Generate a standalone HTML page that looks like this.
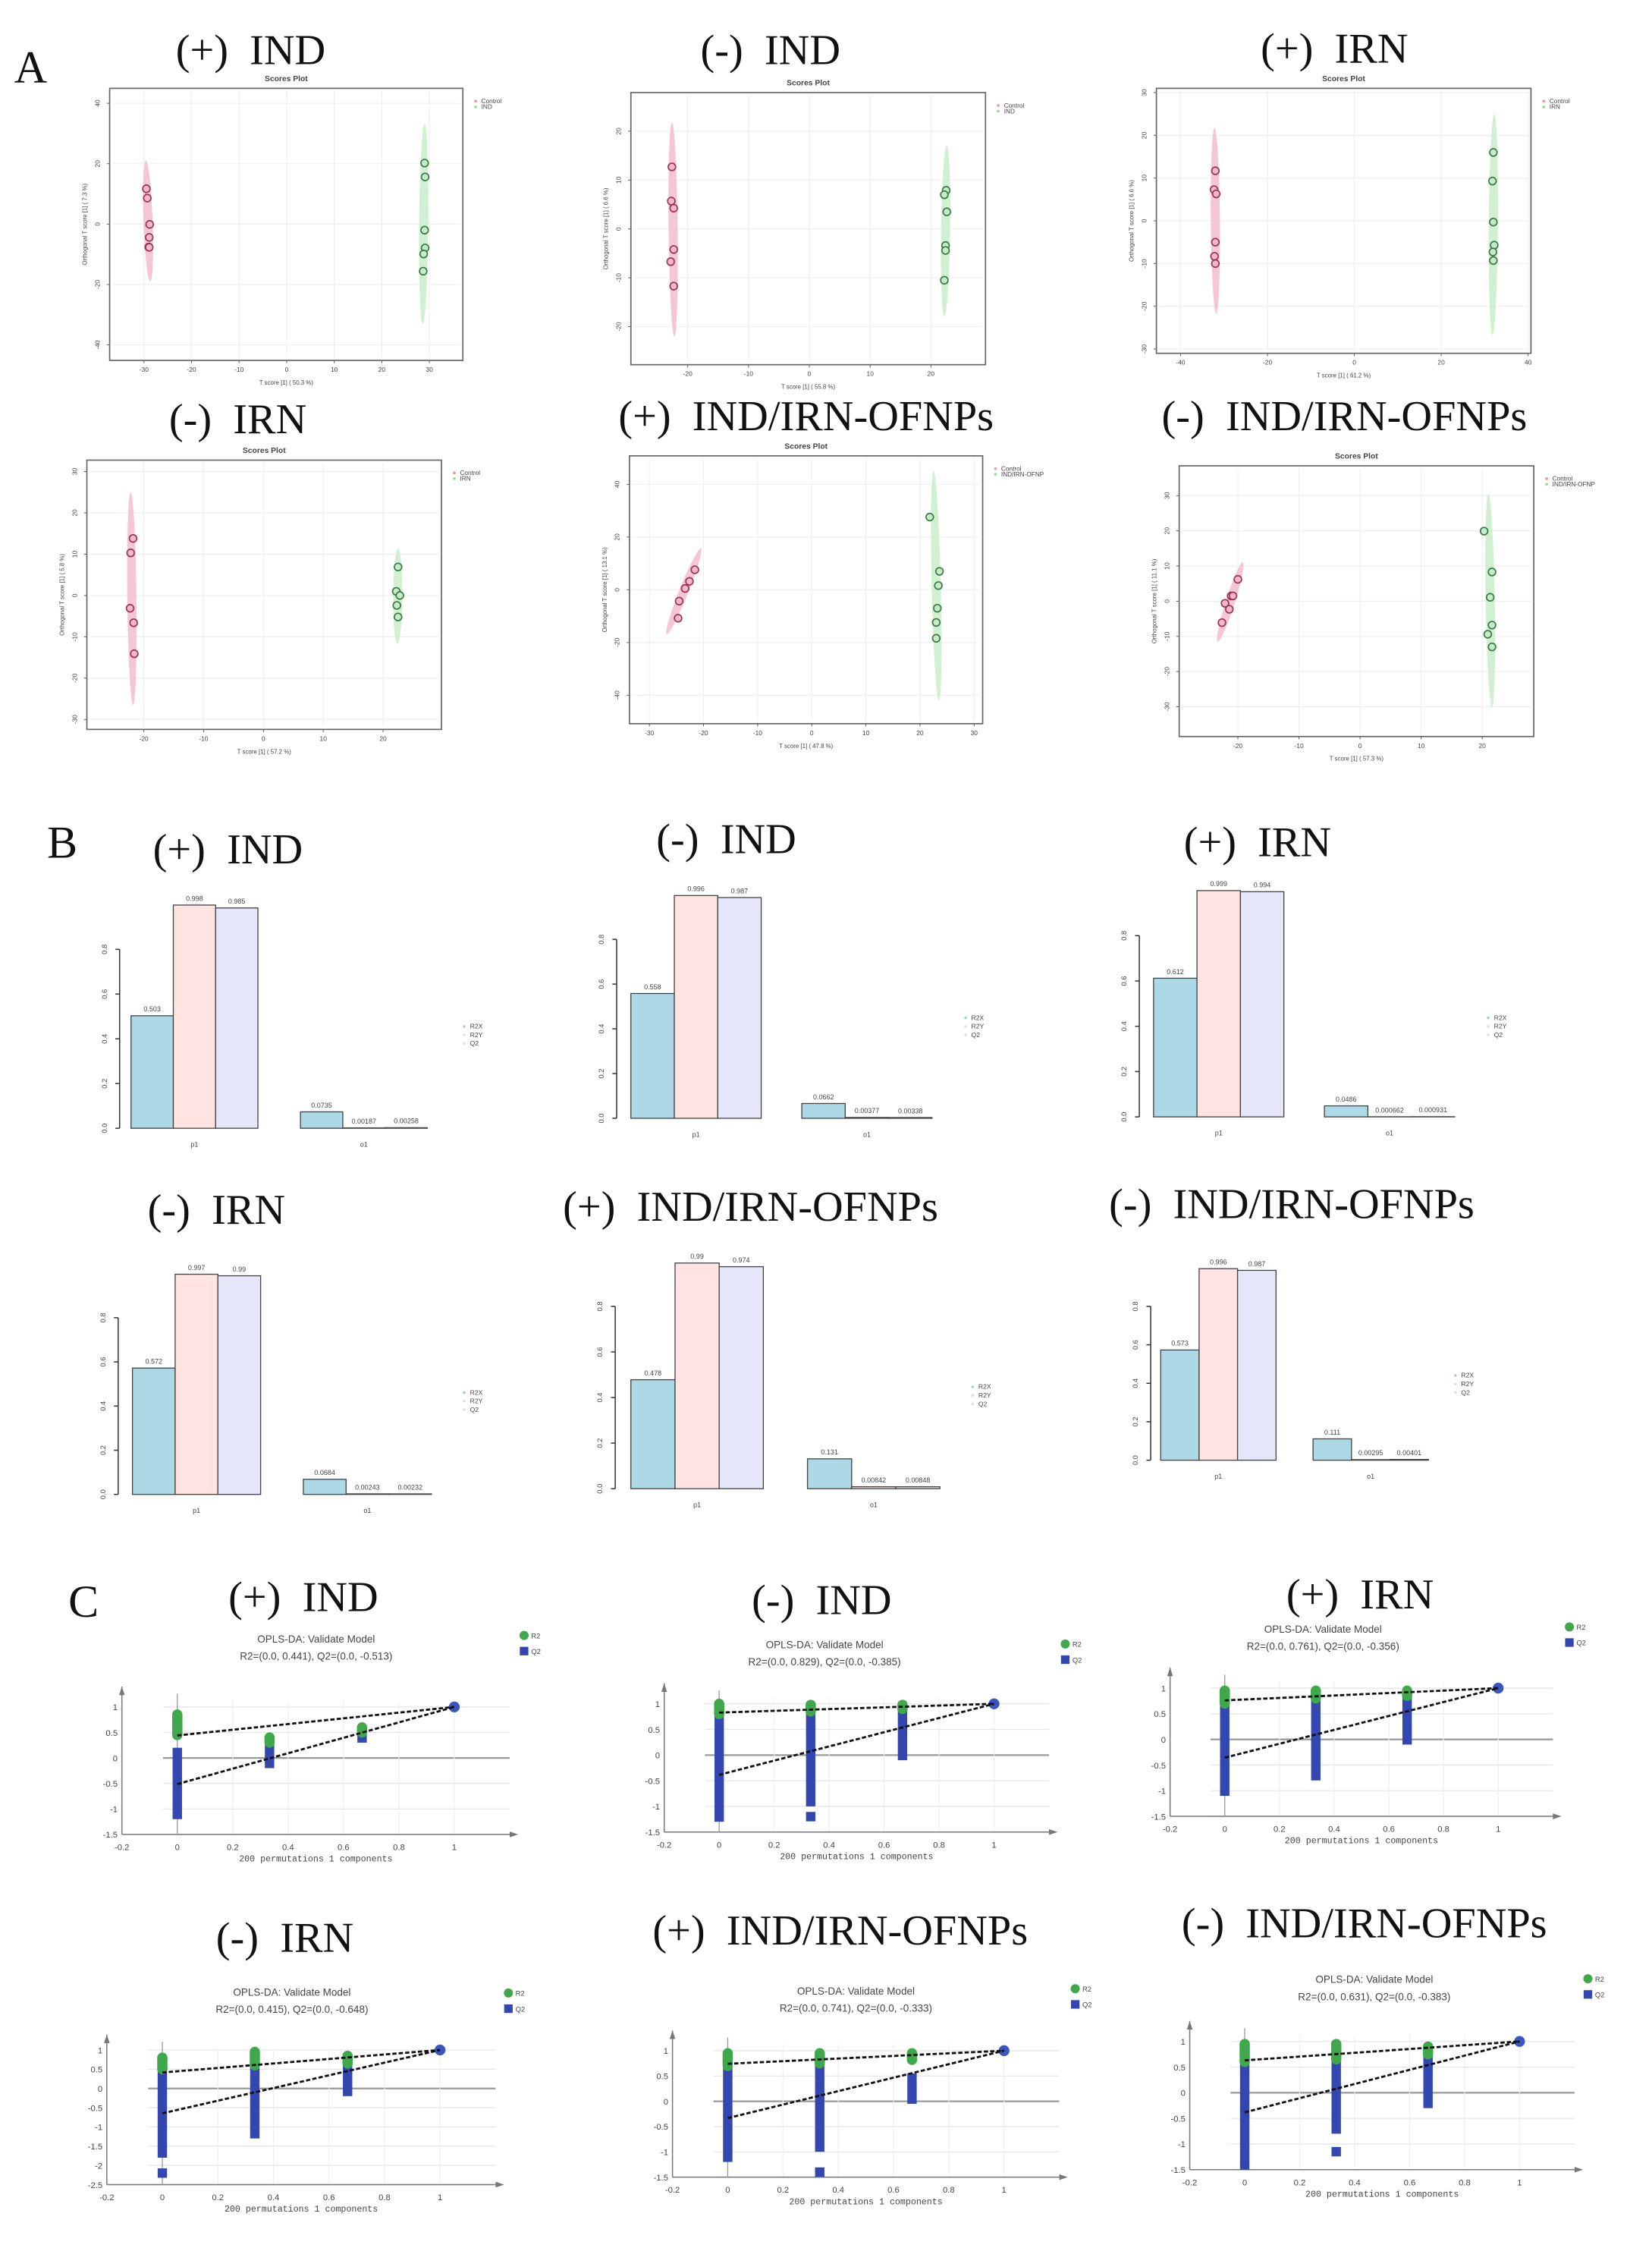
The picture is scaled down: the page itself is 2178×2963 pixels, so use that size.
<!DOCTYPE html>
<html><head><meta charset="utf-8"><style>
html,body{margin:0;padding:0;background:#fff;}
svg{display:block;}
.t{font-family:"Liberation Serif",serif;font-size:30px;fill:#111;white-space:pre;}
.L{font-family:"Liberation Serif",serif;font-size:32px;fill:#111;}
.s{font-family:"Liberation Sans",sans-serif;fill:#444;}
</style></head><body>
<svg id="fig" xmlns="http://www.w3.org/2000/svg" width="2178" height="2963" viewBox="0 0 1160 1578" preserveAspectRatio="none">
<rect x="0" y="0" width="1160" height="1578" fill="#fff"/>
</svg>
<script>
// ---------- Panel A data (scores plots) ----------
const a1Control=[[-29.5,11.7],[-29.3,8.6],[-28.8,-0.1],[-28.9,-4.4],[-29.0,-7.6],[-28.9,-7.7]];
const a1Treat=[[29.0,20.2],[29.1,15.6],[29.0,-2.0],[29.1,-7.9],[28.8,-9.9],[28.7,-15.6]];
const a2Control=[[-22.6,12.7],[-22.7,5.7],[-22.3,4.25],[-22.3,-4.2],[-22.8,-6.7],[-22.3,-11.7]];
const a2Treat=[[22.5,7.9],[22.2,7.0],[22.6,3.5],[22.4,-3.4],[22.4,-4.4],[22.2,-10.5]];
const a3Control=[[-32,11.7],[-32.3,7.3],[-31.8,6.3],[-32,-5],[-32.2,-8.3],[-32,-10]];
const a3Treat=[[32,16],[31.8,9.3],[32,-0.3],[32.2,-5.7],[31.9,-7.3],[32,-9.3]];
const a4Control=[[-21.8,13.8],[-22.2,10.3],[-22.3,-3.1],[-21.7,-6.6],[-21.6,-14.1]];
const a4Treat=[[22.5,6.9],[22.2,1],[22.8,0],[22.3,-2.4],[22.5,-5.2]];
const a5Control=[[-21.6,7.6],[-22.6,3.2],[-23.4,0.5],[-24.5,-4.3],[-24.7,-10.8]];
const a5Treat=[[21.8,27.6],[23.6,7],[23.4,1.6],[23.2,-7],[23.0,-12.4],[23.0,-18.4]];
const a6Control=[[-20,6.2],[-21.1,1.5],[-20.8,1.5],[-22.1,-0.6],[-21.4,-2.3],[-22.6,-6.1]];
const a6Treat=[[20.3,19.9],[21.6,8.3],[21.3,1.1],[21.6,-6.8],[20.9,-9.4],[21.6,-13]];
// ellipse ends [x1,y1,x2,y2] in data units
const a1Ell=[[-29.6,21,-28.7,-19],[29.0,33,28.6,-33]];
const a2Ell=[[-22.6,21.8,-22.2,-22],[22.6,17.1,22.2,-17.9]];
const a3Ell=[[-32.2,21.7,-31.8,-21.7],[32.2,25,31.8,-26.7]];
const a4Ell=[[-22.2,25,-21.8,-26.5],[22.5,11.4,22.4,-11.7]];
const a5Ell=[[-20.5,15.7,-26.8,-16.8],[22.5,45,23.5,-42]];
const a6Ell=[[-19.2,11,-23.3,-11.5],[21.0,30.4,21.6,-30.2]];

// ---------- Panel B data (bar plots) ----------
const bGroups=["p1","o1"];
const bSeries=["R2X","R2Y","Q2"];
const b1P1=[0.503,0.998,0.985], b1O1=[0.0735,0.00187,0.00258];
const b2P1=[0.558,0.996,0.987], b2O1=[0.0662,0.00377,0.00338];
const b3P1=[0.612,0.999,0.994], b3O1=[0.0486,0.000662,0.000931];
const b4P1=[0.572,0.997,0.99], b4O1=[0.0684,0.00243,0.00232];
const b5P1=[0.478,0.99,0.974], b5O1=[0.131,0.00842,0.00848];
const b6P1=[0.573,0.996,0.987], b6O1=[0.111,0.00295,0.00401];
const bLabelsP1=[["0.503","0.998","0.985"],["0.558","0.996","0.987"],["0.612","0.999","0.994"],["0.572","0.997","0.99"],["0.478","0.99","0.974"],["0.573","0.996","0.987"]];
const bLabelsO1=[["0.0735","0.00187","0.00258"],["0.0662","0.00377","0.00338"],["0.0486","0.000662","0.000931"],["0.0684","0.00243","0.00232"],["0.131","0.00842","0.00848"],["0.111","0.00295","0.00401"]];
const bTicks=[0,0.2,0.4,0.6,0.8];

// ---------- Panel C data (permutation tests) ----------
const permX=[0,0.333,0.667];
const c1R2=[[0.45,0.85],[0.3,0.4],[0.5,0.6]], c1Q2=[[-1.2,0.2],[-0.2,0.3],[0.3,0.55]], c1Int=[0.441,-0.513], c1Out=[];
const c2R2=[[0.8,1.0],[0.85,0.98],[0.9,0.98]], c2Q2=[[-1.3,0.9],[-1.0,0.85],[-0.1,0.9]], c2Int=[0.829,-0.385], c2Out=[[0.333,-1.2]];
const c3R2=[[0.7,0.95],[0.8,0.95],[0.85,0.95]], c3Q2=[[-1.1,0.85],[-0.8,0.85],[-0.1,0.85]], c3Int=[0.761,-0.356], c3Out=[];
const c4R2=[[0.5,0.8],[0.6,0.95],[0.65,0.85]], c4Q2=[[-1.8,0.6],[-1.3,0.85],[-0.2,0.8]], c4Int=[0.415,-0.648], c4Out=[[0,-2.2]];
const c5R2=[[0.7,0.95],[0.75,0.95],[0.82,0.95]], c5Q2=[[-1.2,0.8],[-1.0,0.8],[-0.05,0.55]], c5Int=[0.741,-0.333], c5Out=[[0.333,-1.4]];
const c6R2=[[0.6,0.95],[0.65,0.95],[0.75,0.9]], c6Q2=[[-1.5,0.75],[-0.8,0.85],[-0.3,0.85]], c6Int=[0.631,-0.383], c6Out=[[0.333,-1.15]];
const cYTicksA=[1,0.5,0,-0.5,-1,-1.5];
const cYTicksB=[1,0.5,0,-0.5,-1,-1.5,-2,-2.5];
const cXTicks=[-0.2,0,0.2,0.4,0.6,0.8,1];

const NS="http://www.w3.org/2000/svg";
const svg=document.getElementById('fig');
function mk(tag,attrs,parent,text){const e=document.createElementNS(NS,tag);for(const k in attrs)e.setAttribute(k,attrs[k]);if(text!==undefined)e.textContent=text;(parent||svg).appendChild(e);return e;}
function grp(name,parent){const g=mk('g',{},parent);


return g;}

// Section letters and titles
const letters=[["A",10,58],["B",33,602],["C",48,1135]];
letters.forEach(l=>{const e=mk('text',{x:l[1],y:l[2],class:'L'},svg,l[0]);

});
const titles=[
["(+)  IND",176,45],["(-)  IND",541,45],["(+)  IRN",937,44],["(-)  IRN",167,304],["(+)  IND/IRN-OFNPs",566,302],["(-)  IND/IRN-OFNPs",944,302],
["(+)  IND",160,606],["(-)  IND",510,599],["(+)  IRN",883,601],["(-)  IRN",152,859],["(+)  IND/IRN-OFNPs",527,857],["(-)  IND/IRN-OFNPs",907,855],
["(+)  IND",213,1131],["(-)  IND",577,1133],["(+)  IRN",955,1129],["(-)  IRN",200,1370],["(+)  IND/IRN-OFNPs",590,1365],["(-)  IND/IRN-OFNPs",958,1360]];
titles.forEach((t,i)=>{const e=mk('text',{x:t[1],y:t[2],class:'t','text-anchor':'middle'},svg,t[0]);

});

// ---------- Scores plots ----------
function scores(name,cfg,ctrl,treat,ell,legendLabel,xpct,ypct){
  const g=grp(name);
  const X=v=>cfg.x0+v*cfg.xk, Y=v=>cfg.y0-v*cfg.yk;
  const [fx0,fy0,fx1,fy1]=cfg.f;
  const t=mk('text',{x:(fx0+fx1)/2,y:fy0-5,'text-anchor':'middle',class:'s','font-size':5.5,'font-weight':'bold',fill:'#222'},g,'Scores Plot');
  
  
  cfg.xt.forEach(v=>{mk('line',{x1:X(v),x2:X(v),y1:fy0+2,y2:fy1-2,stroke:'#eee','stroke-width':0.6},g);
    mk('line',{x1:X(v),x2:X(v),y1:fy1,y2:fy1+2,stroke:'#555','stroke-width':0.5},g);
    mk('text',{x:X(v),y:fy1+8,'text-anchor':'middle',class:'s','font-size':4.5},g,String(v));});
  cfg.yt.forEach(v=>{mk('line',{x1:fx0+2,x2:fx1-2,y1:Y(v),y2:Y(v),stroke:'#eee','stroke-width':0.6},g);
    mk('line',{x1:fx0-2,x2:fx0,y1:Y(v),y2:Y(v),stroke:'#555','stroke-width':0.5},g);
    mk('text',{x:fx0-7,y:Y(v),'text-anchor':'middle',class:'s','font-size':4.5,transform:`rotate(-90 ${fx0-7} ${Y(v)})`},g,String(v));});
  const fr=mk('rect',{x:fx0,y:fy0,width:fx1-fx0,height:fy1-fy0,fill:'none',stroke:'#666','stroke-width':0.9},g);
  
  
  const cols=[['#f2b8c8','#9a3355'],['#c6ebc6','#3a7a46']];
  ell.forEach((e,i)=>{const x1=X(e[0]),y1=Y(e[1]),x2=X(e[2]),y2=Y(e[3]);
    const cx=(x1+x2)/2,cy=(y1+y2)/2,ry=Math.hypot(x2-x1,y2-y1)/2,ang=Math.atan2(x2-x1,y2-y1)*180/Math.PI;
    const el=mk('ellipse',{cx,cy,rx:3.2,ry,fill:cols[i][0],'fill-opacity':0.8,transform:`rotate(${-ang} ${cx} ${cy})`},g);
    
    });
  [ctrl,treat].forEach((pts,i)=>pts.forEach(p=>{const c=mk('circle',{cx:X(p[0]),cy:Y(p[1]),r:2.6,fill:cols[i][0],stroke:cols[i][1],'stroke-width':0.9},g);
    
    }));
  const lg=grp('legend',g);
  mk('circle',{cx:fx1+9,cy:fy0+9,r:1,fill:'#e99'},lg);
  mk('text',{x:fx1+13,y:fy0+10.5,class:'s','font-size':4.4},lg,'Control');
  mk('circle',{cx:fx1+9,cy:fy0+13,r:1,fill:'#9d9'},lg);
  mk('text',{x:fx1+13,y:fy0+14.5,class:'s','font-size':4.4},lg,legendLabel);
  mk('text',{x:(fx0+fx1)/2,y:fy1+17,'text-anchor':'middle',class:'s','font-size':4.2},g,`T score [1] ( ${xpct} %)`);
  const yl=(fy0+fy1)/2;
  mk('text',{x:fx0-16,y:yl,'text-anchor':'middle',class:'s','font-size':4.2,transform:`rotate(-90 ${fx0-16} ${yl})`},g,`Orthogonal T score [1] ( ${ypct} %)`);
}
scores('scores-plot-pos-ind',{f:[77,62,325,253],x0:201.3,xk:3.34,y0:157.3,yk:2.12,xt:[-30,-20,-10,0,10,20,30],yt:[40,20,0,-20,-40]},a1Control,a1Treat,a1Ell,'IND','50.3','7.3');
scores('scores-plot-neg-ind',{f:[443,65,692,256],x0:568.3,xk:4.27,y0:160.7,yk:3.43,xt:[-20,-10,0,10,20],yt:[20,10,0,-10,-20]},a2Control,a2Treat,a2Ell,'IND','55.8','6.6');
scores('scores-plot-pos-irn',{f:[812,62,1075,248],x0:951,xk:3.05,y0:155,yk:3,xt:[-40,-20,0,20,40],yt:[30,20,10,0,-10,-20,-30]},a3Control,a3Treat,a3Ell,'IRN','61.2','6.6');
scores('scores-plot-neg-irn',{f:[61,323,310,512],x0:185,xk:4.2,y0:418,yk:2.9,xt:[-20,-10,0,10,20],yt:[30,20,10,0,-10,-20,-30]},a4Control,a4Treat,a4Ell,'IRN','57.2','5.8');
scores('scores-plot-pos-ofnps',{f:[442,320,690,508],x0:570,xk:3.8,y0:414,yk:1.85,xt:[-30,-20,-10,0,10,20,30],yt:[40,20,0,-20,-40]},a5Control,a5Treat,a5Ell,'IND/IRN-OFNP','47.8','13.1');
scores('scores-plot-neg-ofnps',{f:[828,327,1077,517],x0:955,xk:4.29,y0:422,yk:2.47,xt:[-20,-10,0,10,20],yt:[30,20,10,0,-10,-20,-30]},a6Control,a6Treat,a6Ell,'IND/IRN-OFNP','57.3','11.1');

// ---------- Bar plots ----------
const barFill=['#add8e6','#ffe4e1','#e6e6fa'];
function bars(name,cfg,p1,o1,lp,lo){
  const g=grp(name);
  const Y=v=>cfg.base-v*cfg.unit;
  mk('line',{x1:cfg.ax,x2:cfg.ax,y1:Y(0),y2:Y(0.8),stroke:'#333','stroke-width':0.8},g);
  bTicks.forEach(v=>{mk('line',{x1:cfg.ax-3,x2:cfg.ax,y1:Y(v),y2:Y(v),stroke:'#333','stroke-width':0.8},g);
    mk('text',{x:cfg.ax-9,y:Y(v),'text-anchor':'middle',class:'s','font-size':5,transform:`rotate(-90 ${cfg.ax-9} ${Y(v)})`},g,v.toFixed(1));});
  [p1,o1].forEach((vals,gi)=>{const x0=gi?cfg.o1:cfg.p1;const labs=gi?lo:lp;
    vals.forEach((v,i)=>{const x=x0+i*cfg.bw;
      const r=mk('rect',{x,y:Y(v),width:cfg.bw,height:Y(0)-Y(v),fill:barFill[i],stroke:'#444','stroke-width':0.7},g);
      
      
      mk('text',{x:x+cfg.bw/2,y:Y(v)-3,'text-anchor':'middle',class:'s','font-size':4.8},g,labs[i]);});
    mk('text',{x:x0+1.5*cfg.bw,y:Y(0)+13,'text-anchor':'middle',class:'s','font-size':4.8},g,bGroups[gi]);});
  const lg=grp('bar-legend',g);
  bSeries.forEach((s,i)=>{mk('circle',{cx:cfg.lx,cy:cfg.ly+i*6-1.5,r:0.9,fill:barFill[i]==='#add8e6'?'#9cc':'#ddd'},lg);
    mk('text',{x:cfg.lx+4,y:cfg.ly+i*6,class:'s','font-size':4.6},lg,s);});
}
bars('bar-plot-pos-ind',{ax:84,p1:92,o1:211,bw:29.7,base:792,unit:157,lx:326,ly:722},b1P1,b1O1,bLabelsP1[0],bLabelsO1[0]);
bars('bar-plot-neg-ind',{ax:433,p1:443,o1:563,bw:30.5,base:785,unit:157,lx:678,ly:716},b2P1,b2O1,bLabelsP1[1],bLabelsO1[1]);
bars('bar-plot-pos-irn',{ax:800,p1:810,o1:930,bw:30.5,base:784,unit:159,lx:1045,ly:716},b3P1,b3O1,bLabelsP1[2],bLabelsO1[2]);
bars('bar-plot-neg-irn',{ax:83,p1:93,o1:213,bw:30,base:1049,unit:155,lx:326,ly:979},b4P1,b4O1,bLabelsP1[3],bLabelsO1[3]);
bars('bar-plot-pos-ofnps',{ax:432,p1:443,o1:567,bw:31,base:1045,unit:160,lx:683,ly:975},b5P1,b5O1,bLabelsP1[4],bLabelsO1[4]);
bars('bar-plot-neg-ofnps',{ax:808,p1:815,o1:922,bw:27,base:1025,unit:135,lx:1022,ly:967},b6P1,b6O1,bLabelsP1[5],bLabelsO1[5]);

// ---------- Permutation plots ----------
function perm(name,cfg,r2,q2,intc,outs,r2txt,q2txt,yticks){
  const g=grp(name);
  const X=v=>cfg.x0+v*cfg.xk, Y=v=>cfg.y0-v*cfg.yk;
  const ymin=yticks[yticks.length-1];
  const left=X(-0.2), right=X(1.2), bot=Y(ymin), top=Y(1.4);
  mk('text',{x:cfg.tx,y:cfg.ty,'text-anchor':'middle',class:'s','font-size':7.2,fill:'#333'},g,'OPLS-DA: Validate Model');
  mk('text',{x:cfg.tx,y:cfg.ty+12,'text-anchor':'middle',class:'s','font-size':7.2,fill:'#333'},g,`R2=(0.0, ${r2txt}), Q2=(0.0, ${q2txt})`);
  yticks.forEach(v=>{mk('line',{x1:X(0)-10,x2:right,y1:Y(v),y2:Y(v),stroke:v===0?'#999':'#e6e6e6','stroke-width':v===0?1.2:0.7},g);
    mk('text',{x:left-3,y:Y(v)+2.3,'text-anchor':'end',class:'s','font-size':6},g,String(v));});
  cXTicks.forEach(v=>{if(v>0)mk('line',{x1:X(v),x2:X(v),y1:top+10,y2:bot,stroke:'#eee','stroke-width':0.6},g);
    mk('text',{x:X(v),y:bot+11,'text-anchor':'middle',class:'s','font-size':6},g,String(v));});
  mk('line',{x1:left,x2:right,y1:bot,y2:bot,stroke:'#777','stroke-width':0.8},g);
  mk('path',{d:`M${right} ${bot-2}L${right+6} ${bot}L${right} ${bot+2}Z`,fill:'#777'},g);
  mk('line',{x1:left,x2:left,y1:top,y2:bot,stroke:'#777','stroke-width':0.8},g);
  mk('path',{d:`M${left-2} ${top+6}L${left} ${top}L${left+2} ${top+6}Z`,fill:'#777'},g);
  mk('line',{x1:X(0),x2:X(0),y1:top+5,y2:bot,stroke:'#999','stroke-width':0.7},g);
  mk('text',{x:X(0.5),y:bot+19,'text-anchor':'middle','font-family':'"Liberation Mono",monospace','font-size':6.2,fill:'#444'},g,'200 permutations 1 components');
  permX.forEach((px,i)=>{const r=mk('rect',{x:X(px)-3.3,y:Y(q2[i][1]),width:6.6,height:Y(q2[i][0])-Y(q2[i][1]),fill:'#3447b0'},g);
    
    });
  outs.forEach(o=>{const r=mk('rect',{x:X(o[0])-3.3,y:Y(o[1])-3.3,width:6.6,height:6.6,fill:'#3447b0'},g);
    
    });
  permX.forEach((px,i)=>{const r=mk('rect',{x:X(px)-3.6,y:Y(r2[i][1])-3.6,width:7.2,height:Y(r2[i][0])-Y(r2[i][1])+7.2,rx:3.6,fill:'#3fa84a'},g);
    
    });
  const m=mk('circle',{cx:X(1),cy:Y(1),r:3.8,fill:'#3a56c0'},g);
  
  
  intc.forEach((v,i)=>{const l=mk('line',{x1:X(0),y1:Y(v),x2:X(1),y2:Y(1),stroke:'#111','stroke-width':1.5,'stroke-dasharray':'3 1.5'},g);
    
    });
  const lg=grp('perm-legend',g);
  mk('circle',{cx:cfg.lx,cy:cfg.ly,r:3.2,fill:'#3fa84a'},lg);
  mk('text',{x:cfg.lx+5,y:cfg.ly+2,class:'s','font-size':5},lg,'R2');
  mk('rect',{x:cfg.lx-3,y:cfg.ly+8,width:6,height:6,fill:'#3447b0'},lg);
  mk('text',{x:cfg.lx+5,y:cfg.ly+13,class:'s','font-size':5},lg,'Q2');
}
perm('perm-plot-pos-ind',{x0:124.5,xk:194.5,y0:1234,yk:35.8,tx:222,ty:1153,lx:368,ly:1148},c1R2,c1Q2,c1Int,c1Out,'0.441','-0.513',cYTicksA);
perm('perm-plot-neg-ind',{x0:505,xk:193,y0:1232,yk:36,tx:579,ty:1157,lx:748,ly:1154},c2R2,c2Q2,c2Int,c2Out,'0.829','-0.385',cYTicksA);
perm('perm-plot-pos-irn',{x0:860,xk:192,y0:1221,yk:36,tx:929,ty:1146,lx:1102,ly:1142},c3R2,c3Q2,c3Int,c3Out,'0.761','-0.356',cYTicksA);
perm('perm-plot-neg-irn',{x0:114,xk:195,y0:1466,yk:27,tx:205,ty:1401,lx:357,ly:1399},c4R2,c4Q2,c4Int,c4Out,'0.415','-0.648',cYTicksB);
perm('perm-plot-pos-ofnps',{x0:511,xk:194,y0:1475,yk:35.5,tx:601,ty:1400,lx:755,ly:1396},c5R2,c5Q2,c5Int,c5Out,'0.741','-0.333',cYTicksA);
perm('perm-plot-neg-ofnps',{x0:874,xk:193,y0:1469,yk:36,tx:965,ty:1392,lx:1115,ly:1389},c6R2,c6Q2,c6Int,c6Out,'0.631','-0.383',cYTicksA);
</script>
</body></html>
